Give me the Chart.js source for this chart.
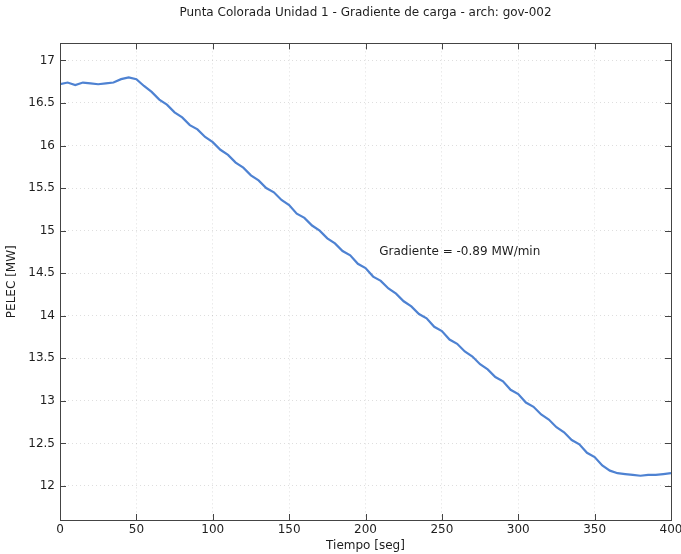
<!DOCTYPE html>
<html>
<head>
<meta charset="utf-8">
<script src="https://cdn.jsdelivr.net/npm/chart.js@4/dist/chart.umd.min.js"></script>
<style>
  html, body { margin: 0; padding: 0; background: #ffffff; }
  #wrap { width: 681px; height: 554px; }
</style>
</head>
<body>
<div id="wrap"><canvas id="c" width="681" height="554"></canvas></div>
<script>
// Electrical power of unit 1 during the load-ramp test, sampled every 5 s
const timeSec = [
  0, 5, 10, 15, 20, 25, 30, 35, 40, 45,
  50, 55, 60, 65, 70, 75, 80, 85, 90, 95,
  100, 105, 110, 115, 120, 125, 130, 135, 140, 145,
  150, 155, 160, 165, 170, 175, 180, 185, 190, 195,
  200, 205, 210, 215, 220, 225, 230, 235, 240, 245,
  250, 255, 260, 265, 270, 275, 280, 285, 290, 295,
  300, 305, 310, 315, 320, 325, 330, 335, 340, 345,
  350, 355, 360, 365, 370, 375, 380, 385, 390, 395, 400
];
const pelecMW = [
  16.72, 16.74, 16.71, 16.74, 16.73, 16.72, 16.73, 16.74, 16.78, 16.80,
  16.78, 16.70, 16.63, 16.54, 16.48, 16.39, 16.33, 16.24, 16.19, 16.10,
  16.04, 15.95, 15.89, 15.80, 15.74, 15.65, 15.59, 15.50, 15.45, 15.36,
  15.30, 15.20, 15.15, 15.06, 15.00, 14.91, 14.85, 14.76, 14.71, 14.61,
  14.56, 14.46, 14.41, 14.32, 14.26, 14.17, 14.11, 14.02, 13.97, 13.87,
  13.82, 13.72, 13.67, 13.58, 13.52, 13.43, 13.37, 13.28, 13.23, 13.13,
  13.08, 12.98, 12.93, 12.84, 12.78, 12.69, 12.63, 12.54, 12.49, 12.39,
  12.34, 12.24, 12.18, 12.15, 12.14, 12.13, 12.12, 12.13, 12.13, 12.14, 12.15
];
const xTicks = [0, 50, 100, 150, 200, 250, 300, 350, 400];
const yTicks = [12, 12.5, 13, 13.5, 14, 14.5, 15, 15.5, 16, 16.5, 17];
const xRange = [0, 400];
const yRange = [11.6, 17.2];

const chartTitle = 'Punta Colorada Unidad 1 - Gradiente de carga - arch: gov-002';
const xTitle = 'Tiempo [seg]';
const yTitle = 'PELEC [MW]';
const gradientNote = { text: 'Gradiente = -0.89 MW/min', t: 209, mw: 14.75 };

const FONT = 'DejaVu Sans';
const TEXT = '#1e1e1e';
const FS = 12;

// Box around the axes with inward tick marks on all four sides
const boxPlugin = {
  id: 'boxTicks',
  afterDraw(chart) {
    const { ctx, chartArea: a, scales } = chart;
    const len = 6;
    ctx.save();
    ctx.strokeStyle = '#444444';
    ctx.lineWidth = 1;
    ctx.beginPath();
    scales.x.ticks.forEach(t => {
      const px = Math.round(scales.x.getPixelForValue(t.value)) + 0.5;
      ctx.moveTo(px, a.bottom); ctx.lineTo(px, a.bottom - len);
      ctx.moveTo(px, a.top); ctx.lineTo(px, a.top + len);
    });
    scales.y.ticks.forEach(t => {
      const py = Math.round(scales.y.getPixelForValue(t.value)) + 0.5;
      ctx.moveTo(a.left, py); ctx.lineTo(a.left + len, py);
      ctx.moveTo(a.right, py); ctx.lineTo(a.right - len, py);
    });
    ctx.stroke();
    ctx.strokeRect(Math.round(a.left) + 0.5, Math.round(a.top) + 0.5,
                   Math.round(a.right - a.left), Math.round(a.bottom - a.top));
    // annotation text placed in data coordinates
    ctx.fillStyle = TEXT;
    ctx.font = FS + 'px "' + FONT + '"';
    ctx.textAlign = 'left';
    ctx.textBaseline = 'middle';
    ctx.fillText(gradientNote.text,
      scales.x.getPixelForValue(gradientNote.t),
      scales.y.getPixelForValue(gradientNote.mw));
    ctx.restore();
  }
};

const gridOpts = {
  color: 'rgba(0,0,0,0.13)',
  lineWidth: 1,
  drawTicks: false
};

new Chart(document.getElementById('c'), {
  type: 'line',
  data: {
    datasets: [{
      data: timeSec.map((t, i) => ({ x: t, y: pelecMW[i] })),
      borderColor: 'rgb(78,130,210)',
      borderWidth: 2.2,
      pointRadius: 0,
      tension: 0,
      fill: false
    }]
  },
  options: {
    responsive: false,
    animation: false,
    events: [],
    layout: { padding: { left: 0, right: 10, top: 0, bottom: 1 } },
    plugins: {
      legend: { display: false },
      tooltip: { enabled: false },
      title: {
        display: true,
        text: chartTitle,
        fullSize: false,
        color: TEXT,
        font: { family: FONT, size: FS, weight: 'normal' },
        padding: { top: 6, bottom: 23 }
      }
    },
    scales: {
      x: {
        type: 'linear',
        min: xRange[0], max: xRange[1],
        afterBuildTicks: s => { s.ticks = xTicks.map(v => ({ value: v })); },
        afterFit: s => { s.height = 33; s.paddingLeft = 0; s.paddingRight = 0; },
        grid: { ...gridOpts },
        border: { display: false, dash: [1, 3] },
        ticks: {
          color: TEXT, padding: 3, maxRotation: 0, autoSkip: false,
          font: { family: FONT, size: FS },
          callback: v => String(v)
        },
        title: {
          display: true, text: xTitle, color: TEXT,
          font: { family: FONT, size: FS },
          padding: { top: 0, bottom: 0 }
        }
      },
      y: {
        type: 'linear',
        min: yRange[0], max: yRange[1],
        afterBuildTicks: s => { s.ticks = yTicks.map(v => ({ value: v })); },
        afterFit: s => { s.width = 60; s.paddingTop = 0; s.paddingBottom = 0; },
        grid: { ...gridOpts },
        border: { display: false, dash: [1, 3] },
        ticks: {
          color: TEXT, padding: 5, autoSkip: false,
          font: { family: FONT, size: FS },
          callback: v => String(v)
        },
        title: {
          display: true, text: yTitle, color: TEXT,
          font: { family: FONT, size: FS },
          padding: { top: 5, bottom: 0 }
        }
      }
    }
  },
  plugins: [boxPlugin]
});
</script>
</body>
</html>
